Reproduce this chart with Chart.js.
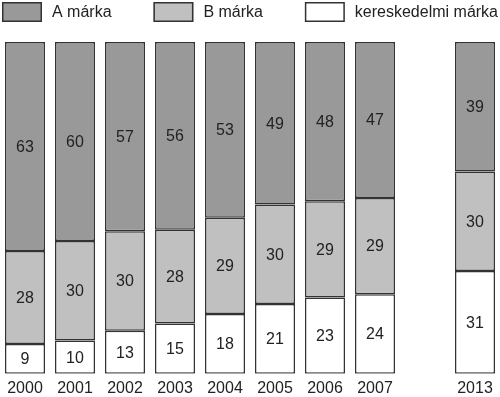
<!DOCTYPE html>
<html>
<head>
<meta charset="utf-8">
<script src="https://cdn.jsdelivr.net/npm/chart.js@4"></script>
<style>
  html, body { margin: 0; padding: 0; background: #fff; }
  #wrap { width: 500px; height: 397px; }
</style>
</head>
<body>
<div id="wrap"><canvas id="chart"></canvas></div>
<script>
// évek (az üres hely a 2007 és 2013 közötti szünet)
const years = ['2000', '2001', '2002', '2003', '2004', '2005', '2006', '2007', '', '2013'];
const aMarka = [63, 60, 57, 56, 53, 49, 48, 47, null, 39];
const bMarka = [28, 30, 30, 28, 29, 30, 29, 29, null, 30];
const kerMarka = [9, 10, 13, 15, 18, 21, 23, 24, null, 31];

// az oszlopok mindig 100%-ig érnek
const totals = years.map((y, i) => (aMarka[i] || 0) + (bMarka[i] || 0) + (kerMarka[i] || 0));
const share = arr => arr.map((v, i) => v == null ? null : v / totals[i] * 100);

const raw = [kerMarka, bMarka, aMarka];
const FONT = '16px "Liberation Sans", Arial, sans-serif';
const border = '#333';

// értékek kiírása a szegmensek közepére
const valueLabels = {
    id: 'valueLabels',
    afterDatasetsDraw(chart) {
        const ctx = chart.ctx;
        ctx.save();
        ctx.font = FONT;
        ctx.fillStyle = '#222';
        ctx.textAlign = 'center';
        ctx.textBaseline = 'middle';
        chart.data.datasets.forEach((ds, di) => {
            chart.getDatasetMeta(di).data.forEach((bar, i) => {
                const v = raw[di][i];
                if (v == null) return;
                ctx.fillText(String(v), bar.x, (bar.y + bar.base) / 2 + 1);
            });
        });
        ctx.restore();
    }
};

// jelmagyarázat a felső sávban, a teljes szélességben elosztva
const topLegend = {
    id: 'topLegend',
    afterDraw(chart) {
        const ctx = chart.ctx;
        const items = chart.data.datasets.slice().reverse();
        const boxW = 40, boxH = 20, gap = 10, left = 2, right = chart.width - 2;
        ctx.save();
        ctx.font = FONT;
        const widths = items.map(d => boxW + gap + ctx.measureText(d.label).width);
        const space = (right - left - widths.reduce((a, b) => a + b, 0)) / (items.length - 1);
        let x = left;
        items.forEach((d, i) => {
            ctx.fillStyle = d.backgroundColor;
            ctx.fillRect(x, 2, boxW, boxH);
            ctx.strokeStyle = border;
            ctx.lineWidth = 1.5;
            ctx.strokeRect(x + 0.75, 2.75, boxW - 1.5, boxH - 1.5);
            ctx.fillStyle = '#222';
            ctx.textBaseline = 'middle';
            ctx.fillText(d.label, x + boxW + gap, 2 + boxH / 2 + 1);
            x += widths[i] + space;
        });
        ctx.restore();
    }
};

new Chart(document.getElementById('chart'), {
    type: 'bar',
    data: {
        labels: years,
        datasets: [
            { label: 'kereskedelmi márka', data: share(kerMarka), backgroundColor: '#ffffff' },
            { label: 'B márka', data: share(bMarka), backgroundColor: '#c0c0c0' },
            { label: 'A márka', data: share(aMarka), backgroundColor: '#999999' }
        ].map(d => Object.assign(d, {
            borderColor: border,
            borderWidth: 1.5,
            borderSkipped: false,
            barPercentage: 0.8,
            categoryPercentage: 1
        }))
    },
    options: {
        responsive: true,
        maintainAspectRatio: false,
        animation: false,
        layout: { padding: { top: 42, left: 0, right: 0, bottom: -6 } },
        plugins: {
            tooltip: { enabled: false },
            legend: { display: false }
        },
        scales: {
            x: {
                stacked: true,
                grid: { display: false, drawTicks: false },
                border: { display: false },
                ticks: {
                    color: '#222',
                    padding: 5,
                    maxRotation: 0,
                    autoSkip: false,
                    font: { size: 16, family: '"Liberation Sans", Arial, sans-serif' }
                }
            },
            y: {
                stacked: true,
                display: false,
                min: 0,
                max: 100
            }
        }
    },
    plugins: [valueLabels, topLegend]
});
</script>
</body>
</html>
